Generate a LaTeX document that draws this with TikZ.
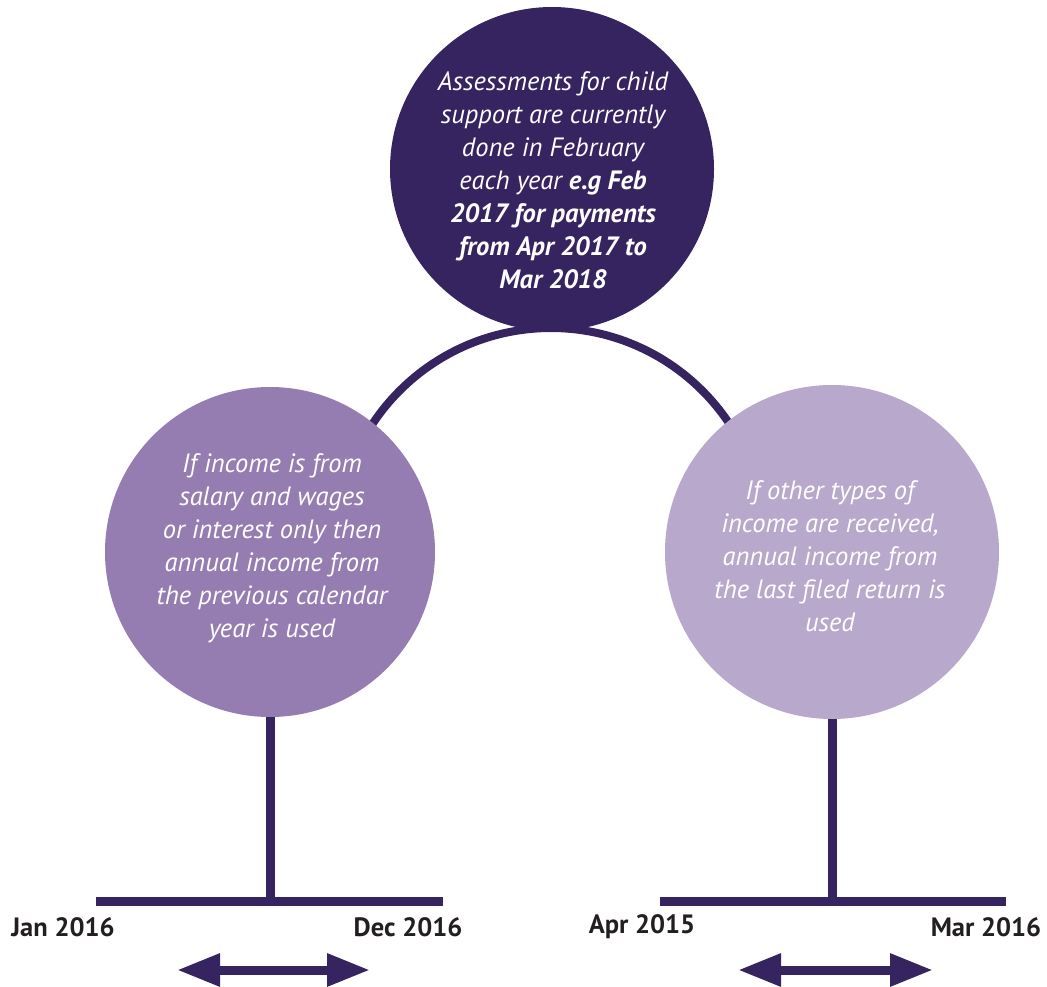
\documentclass[tikz,border=0pt]{standalone}
\usepackage{fontspec}
\setmainfont{PT Sans}
\usetikzlibrary{arrows.meta}
\definecolor{dark}{HTML}{35245F}
\definecolor{midp}{HTML}{967DB1}
\definecolor{lightp}{HTML}{B8A8CB}
\definecolor{lbl}{HTML}{231F20}
\tikzset{
  disc/.style={circle, inner sep=0pt, draw=none},
  ctext/.style={align=center, text=white, inner sep=0pt, font=\fontsize{26.5}{33}\selectfont\itshape},
  tline/.style={draw=dark, line width=9pt},
  datelbl/.style={text=lbl, inner sep=0pt, font=\fontsize{26.5}{30}\selectfont\bfseries},
  span/.style={draw=dark, fill=dark, line width=9pt, {Triangle[length=43pt,width=31pt]}-{Triangle[length=43pt,width=31pt]}}
}
\begin{document}
\begin{tikzpicture}[x=1pt,y=-1pt]
\useasboundingbox (0,0) rectangle (1047,987);
% arc behind circles
\coordinate (arcc) at (551,542);
\begin{scope}
\clip (0,0) rectangle (1047,432);
\draw[dark, line width=8pt] (arcc) circle[radius=214pt];
\end{scope}
% circles
\node[disc, fill=dark, minimum size=324pt] (top) at (552,169) {};
\node[disc, fill=midp, minimum size=330pt] (left) at (270,552) {};
\node[disc, fill=lightp, minimum size=334pt] (right) at (832,552) {};
% texts
\node[ctext] (toptext) at (553,180) {Assessments for child\\support are currently\\done in February\\each year \textbf{e.g Feb}\\\textbf{2017 for payments}\\\textbf{from Apr 2017 to}\\\textbf{Mar 2018}};
\node[ctext] (lefttext) at (272,548) {If income is from\\salary and wages\\or interest only then\\annual income from\\the previous calendar\\year is used};
\node[ctext] (righttext) at (830,556) {If other types of\\income are received,\\annual income from\\the last filed return is\\used};
% timelines
\coordinate (lstem) at (270,901);
\coordinate (ll) at (96,901);
\coordinate (lr) at (443,901);
\draw[tline] (left.south) -- (lstem);
\draw[tline] (ll) -- (lr);
\coordinate (rstem) at (832,901);
\coordinate (rl) at (660,901);
\coordinate (rr) at (1006,901);
\draw[tline] (right.south) -- (rstem);
\draw[tline] (rl) -- (rr);
% labels
\node[datelbl] (jan) at (63,927) {Jan 2016};
\node[datelbl] (dec) at (408,927) {Dec 2016};
\node[datelbl] (apr) at (642,927) {Apr 2015};
\node[datelbl] (mar) at (986,927) {Mar 2016};
% arrows
\coordinate (a1) at (177,970);
\coordinate (a2) at (370,970);
\draw[span] (a1) -- (a2);
\coordinate (b1) at (738,970);
\coordinate (b2) at (933,970);
\draw[span] (b1) -- (b2);
\end{tikzpicture}
\end{document}
